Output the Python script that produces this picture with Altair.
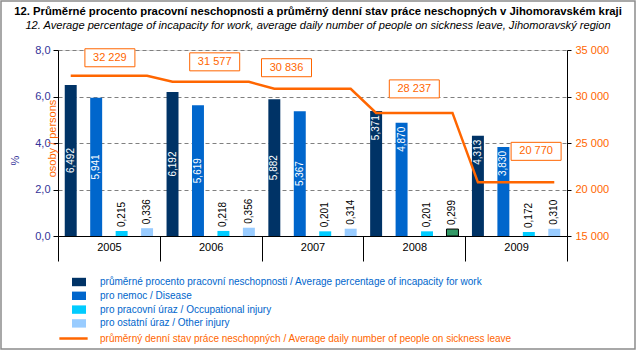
import altair as alt
import pandas as pd

# ---------------- data ----------------
years = ["2005", "2006", "2007", "2008", "2009"]
avg_pct = [6.492, 6.192, 5.882, 5.371, 4.313]
disease = [5.941, 5.619, 5.367, 4.870, 3.830]
occupational = [0.215, 0.218, 0.201, 0.201, 0.172]
other_injury = [0.336, 0.356, 0.314, 0.299, 0.310]
persons = [32229, 31577, 30836, 28237, 20770]

series_names = [
    "průměrné procento pracovní neschopnosti / Average percentage of incapacity for work",
    "pro nemoc / Disease",
    "pro pracovní úraz / Occupational injury",
    "pro ostatní úraz / Other injury",
]
line_name = "průměrný denní stav práce neschopných / Average daily number of people on sickness leave"

# ---------------- styles ----------------
bar_colors = ["#003366", "#0066CC", "#00CCFF", "#99CCFF"]
highlight_color = "#339966"
orange = "#FF6600"
axis_blue = "#333399"
FONT = "Liberation Sans"
# nudges of the value boxes relative to each year's band centre (pixels)
box_dx = [1, 4, -26, 0, 20]
box_dy = [-18, -20, -21, -24, -31]

series_values = [avg_pct, disease, occupational, other_injury]
rows = []
for i, y in enumerate(years):
    for j, s in enumerate(series_names):
        rows.append({"year": y, "series": s, "sidx": j, "value": series_values[j][i],
                     "persons": persons[i], "idx": i * 4 + j})
df = pd.DataFrame(rows)
df_years = pd.DataFrame({"year": years, "persons": persons})

W, H = 509, 186

x_enc = alt.X("year:N", sort=years,
              scale=alt.Scale(paddingInner=0, paddingOuter=0),
              axis=alt.Axis(title=None, tickBand="extent", tickSize=25, labelPadding=-20,
                            labelAngle=0, domainColor="black", tickColor="black",
                            labelColor="black", labelFontSize=11, labelFont=FONT, grid=False))
xo_enc = alt.XOffset("series:N", sort=series_names,
                     scale=alt.Scale(paddingInner=0.53, paddingOuter=0.265))

y_left = alt.Y("value:Q", scale=alt.Scale(domain=[0, 8]),
               axis=alt.Axis(values=[0, 2, 4, 6, 8],
                             labelExpr="replace(format(datum.value, '.1f'), '.', ',')",
                             labelColor=axis_blue, labelFontSize=11, labelFont=FONT,
                             tickSize=5, tickColor="black", domainColor="black", labelPadding=3,
                             grid=True, gridColor="#808080", gridDash=[4, 3], gridWidth=1,
                             title="%", titleColor=axis_blue, titleFontWeight="normal",
                             titleFontSize=11, titleFont=FONT, titleAngle=270,
                             titleX=-43, titleY=110, titleAlign="center", titleBaseline="middle"))

hl_test = "datum.year == '2008' && datum.sidx == 3"

bars = alt.Chart(df).mark_bar(stroke="black").encode(
    x=x_enc, xOffset=xo_enc, y=y_left,
    fill=alt.condition(hl_test, alt.value(highlight_color),
                       alt.Fill("series:N", sort=series_names,
                                scale=alt.Scale(domain=series_names, range=bar_colors),
                                legend=alt.Legend(orient="none", legendX=14, legendY=225,
                                                  title=None, padding=0,
                                                  symbolType="M-1,-0.6L1,-0.6L1,0.6L-1,0.6Z",
                                                  symbolSize=196, symbolStrokeWidth=0,
                                                  labelOffset=14, labelColor="#0066CC",
                                                  labelFontSize=10, labelFont=FONT,
                                                  labelLimit=600, rowPadding=1.8))),
    strokeWidth=alt.condition(hl_test, alt.value(1), alt.value(0)),
)

lbl = "replace(format(datum.value, '.3f'), '.', ',')"

in_center = alt.Chart(df).transform_filter(
    "datum.sidx <= 1 && toNumber(datum.year) <= 2007"
).transform_calculate(lbl=lbl, half="datum.value / 2").mark_text(
    angle=270, align="center", baseline="middle", color="white", fontSize=10, font=FONT
).encode(x=x_enc, xOffset=xo_enc, y=alt.Y("half:Q"), text="lbl:N")

in_end = alt.Chart(df).transform_filter(
    "datum.sidx <= 1 && toNumber(datum.year) >= 2008"
).transform_calculate(lbl=lbl).mark_text(
    angle=270, align="right", baseline="middle", dx=-4, color="white", fontSize=10, font=FONT
).encode(x=x_enc, xOffset=xo_enc, y=alt.Y("value:Q"), text="lbl:N")

outside = alt.Chart(df).transform_filter("datum.sidx >= 2").transform_calculate(lbl=lbl).mark_text(
    angle=270, align="left", baseline="middle", dx=4, color="black", fontSize=10, font=FONT
).encode(x=x_enc, xOffset=xo_enc, y=alt.Y("value:Q"), text="lbl:N")

frame = alt.Chart(pd.DataFrame({"f": [0]})).mark_rect(
    fillOpacity=0, stroke="#8c8c8c", strokeWidth=1.5
).encode(x=alt.value(-57), x2=alt.value(577), y=alt.value(-49), y2=alt.value(299))

left = alt.layer(frame, bars, in_center, in_end, outside)

y_right = alt.Y("persons:Q", scale=alt.Scale(domain=[15000, 35000]),
                axis=alt.Axis(orient="right", values=[15000, 20000, 25000, 30000, 35000],
                              labelExpr="replace(format(datum.value, ','), ',', ' ')",
                              labelColor=orange, labelFontSize=11, labelFont=FONT,
                              tickSize=4, tickColor="black", domainColor="black", labelPadding=4,
                              grid=False, title="osoby / persons", titleColor=orange,
                              titleFontWeight="normal", titleFontSize=11, titleFont=FONT,
                              titleAngle=270, titleX=-514.5, titleY=88,
                              titleAlign="center", titleBaseline="middle"))

line = alt.Chart(df).mark_line(strokeWidth=2.5).encode(
    x=x_enc, xOffset=xo_enc, y=y_right,
    order=alt.Order("idx:Q"),
    stroke=alt.Stroke("name:N", scale=alt.Scale(domain=[line_name], range=[orange]),
                      legend=alt.Legend(orient="none", legendX=0, legendY=273, title=None,
                                        padding=0, symbolType="stroke", symbolSize=800,
                                        symbolStrokeWidth=2.5, labelOffset=11,
                                        labelColor=orange, labelFontSize=10, labelFont=FONT,
                                        labelLimit=600)),
).transform_calculate(name=f"'{line_name}'")

right_layers = [line]
for i, yv in enumerate(years):
    dx, dy = box_dx[i], box_dy[i]
    path = f"M{dx-25},{dy-9}L{dx+25},{dy-9}L{dx+25},{dy+9}L{dx-25},{dy+9}Z"
    box = alt.Chart(df_years).transform_filter(f"datum.year == '{yv}'").mark_point(
        shape=path, size=4, filled=True, fill="white", stroke=orange, strokeWidth=1, opacity=1
    ).encode(x=x_enc, y=y_right)
    txt = alt.Chart(df_years).transform_filter(f"datum.year == '{yv}'").transform_calculate(
        plbl="replace(format(datum.persons, ','), ',', ' ')"
    ).mark_text(dx=dx, dy=dy, color=orange, fontSize=11, font=FONT, align="center",
                baseline="middle").encode(x=x_enc, y=y_right, text="plbl:N")
    right_layers += [box, txt]

right = alt.layer(*right_layers)

chart = alt.layer(left, right).resolve_scale(y="independent").properties(
    width=W, height=H,
    padding={"left": 58, "top": 50, "right": 70, "bottom": 115},
    autosize=alt.AutoSizeParams(type="none"),
    background="white",
    title=alt.TitleParams(
        text="12. Průměrné procento pracovní neschopnosti a průměrný denní stav práce neschopných v Jihomoravském kraji",
        subtitle="12. Average percentage of incapacity for work, average daily number of people on sickness leave, Jihomoravský region",
        font=FONT, fontSize=11.3, fontWeight="bold", color="black",
        subtitleFont=FONT, subtitleFontSize=11.1, subtitleFontStyle="italic",
        subtitleColor="black", subtitlePadding=3, anchor="middle", frame="bounds",
        offset=-31),
).configure_view(stroke=None).configure(font=FONT)

chart.save("out.html", embed_options={"renderer": "svg", "actions": False})
